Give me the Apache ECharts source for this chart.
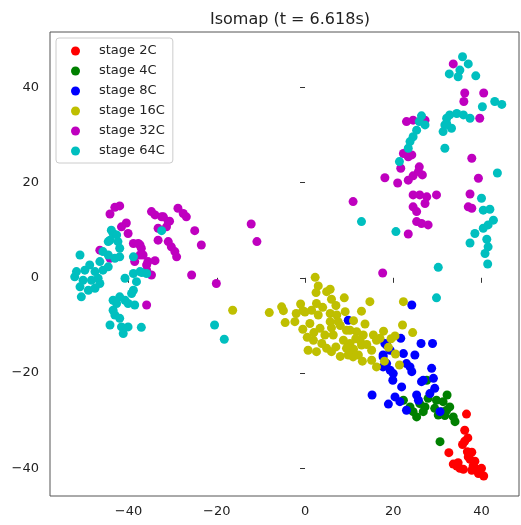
<!DOCTYPE html>
<html>
<head>
<meta charset="utf-8">
<script src="https://cdn.jsdelivr.net/npm/echarts@6/dist/echarts.min.js"></script>
<style>
  html, body { margin: 0; padding: 0; background: #fff; }
  #chart { width: 521px; height: 525px; }
</style>
</head>
<body>
<div id="chart"></div>
<script>
// Isomap embedding of cells, grouped by developmental stage
const seriesNames = ['stage 2C', 'stage 4C', 'stage 8C', 'stage 16C', 'stage 32C', 'stage 64C'];
const seriesColors = ['#ff0000', '#008000', '#0000ff', '#bfbf00', '#bf00bf', '#00bfbf'];
const xTicks = [-40, -20, 0, 20, 40];
const yTicks = [-40, -20, 0, 20, 40];

const stage2C = [
  [36.6,-28.6],[36.2,-32.0],[36.9,-33.6],[35.7,-35.0],[36.8,-36.5],[32.6,-36.7],[37.4,-38.1],
  [38.5,-38.5],[33.6,-39.1],[34.7,-38.8],[35.9,-40.2],[37.8,-40.4],[38.9,-40.2],[40.0,-40.0],
  [40.5,-41.6],[39.3,-41.1],[38.1,-39.5],[37.0,-37.6],[36.2,-34.3],[37.8,-36.6],[39.6,-40.8],
  [35.1,-40.0],[34.4,-39.5]
];
const stage4C = [
  [30.6,-34.4],[32.2,-24.6],[31.3,-26.0],[32.8,-27.1],[33.6,-29.2],[34.0,-30.2],[30.2,-28.8],
  [31.0,-28.1],[25.3,-29.2],[27.2,-27.1],[26.0,-26.4],[23.8,-27.1],[22.3,-25.7],[26.8,-28.1],
  [27.6,-21.5],[24.5,-28.1],[29.8,-25.7],[32.1,-27.8],[29.4,-27.4],[31.7,-28.9],[27.9,-25.3]
];
const stage8C = [
  [24.2,-5.7],[9.8,-8.9],[21.7,-12.7],[26.3,-13.8],[28.9,-13.8],[18.5,-14.1],[17.7,-16.6],
  [22.3,-15.9],[24.9,-16.2],[19.3,-15.2],[18.5,-18.0],[20.0,-20.1],[23.0,-18.0],[24.2,-19.7],
  [28.7,-19.0],[29.1,-21.1],[26.4,-21.8],[19.9,-21.5],[21.9,-22.9],[29.4,-23.2],[15.2,-24.6],
  [20.4,-25.0],[25.3,-24.6],[18.9,-26.5],[21.5,-26.0],[23.0,-27.8],[25.7,-25.7],[28.3,-24.3],
  [30.6,-28.1],[17.7,-18.7],[19.3,-19.4],[23.8,-18.7],[26.8,-21.5],[18.1,-13.8],[17.7,-16.2]
];
const stage16C = [
  [-16.4,-6.8],[2.3,0.1],[3.0,-1.7],[2.5,-3.1],[5.7,-2.4],[4.9,-2.9],[8.9,-4.2],[14.7,-5.0],
  [2.6,-5.4],[-5.3,-6.1],[-4.9,-6.9],[-8.1,-7.3],[-0.5,-6.9],[1.5,-6.8],[5.7,-7.5],[7.2,-7.8],
  [9.1,-7.1],[12.8,-7.0],[3.0,-7.8],[-4.5,-9.4],[-2.3,-9.2],[-0.5,-10.8],[1.1,-9.6],[5.7,-9.2],
  [7.5,-9.2],[13.6,-9.7],[3.4,-10.6],[4.5,-12.0],[6.4,-12.0],[9.4,-11.0],[11.7,-11.3],[13.2,-12.0],
  [15.5,-12.0],[1.9,-13.1],[3.8,-13.8],[8.7,-13.1],[10.2,-13.8],[12.8,-14.1],[16.2,-13.1],
  [0.7,-15.2],[4.9,-14.8],[9.8,-16.2],[12.1,-16.2],[15.1,-15.2],[2.6,-15.5],[22.3,-5.0],
  [22.1,-9.9],[24.4,-11.5],[10.2,-11.0],[17.0,-12.7],[20.4,-12.2],[12.5,-13.1],[9.8,-14.1],
  [18.9,-14.6],[10.9,-16.6],[15.1,-17.3],[16.2,-18.7],[21.4,-18.3],[9.4,-14.8],[-1.0,-5.5],
  [0.0,-7.2],[-2.0,-7.5],[6.0,-4.5],[7.0,-5.8],[4.0,-6.2],[11.0,-9.0],[8.0,-10.0],[6.0,-10.5],
  [2.0,-11.5],[0.5,-12.5],[7.0,-14.5],[6.0,-15.5],[8.0,-16.5],[11.0,-15.0],[13.0,-17.5],
  [14.0,-14.0],[11.5,-12.8],[17.8,-11.2],[19.5,-12.8],[20.5,-16.0],[18.0,-17.5]
];
const stage32C = [
  [-44.2,13.4],[-43.1,14.8],[-42.0,15.1],[-34.8,13.9],[-34.0,13.2],[-32.5,12.8],[-31.0,11.8],
  [-28.8,14.6],[-27.6,13.5],[-26.9,12.8],[-25.0,9.9],[-23.5,6.9],[-40.5,11.5],[-41.6,10.7],
  [-33.3,10.4],[-31.4,10.7],[-33.3,7.9],[-31.0,7.6],[-30.3,6.5],[-29.5,5.5],[-29.1,4.4],
  [-38.9,7.2],[-37.8,7.2],[-37.1,6.2],[-36.7,4.8],[-38.6,3.4],[-35.6,3.4],[-34.0,3.6],
  [-35.9,1.6],[-34.8,0.6],[-46.5,5.8],[-25.7,0.6],[-20.1,-1.2],[-35.9,-5.7],[-44.2,4.1],
  [-40.1,9.3],[-32.1,12.8],[-30.7,11.9],[-37.4,6.9],[-37.4,4.8],[-35.9,2.7],[-12.2,11.3],
  [-10.9,7.6],[10.9,16.0],[17.6,1.0],
  [33.6,44.9],[36.2,38.8],[36.0,37.0],[40.5,38.8],[39.6,33.5],[23.0,32.8],[24.5,33.1],
  [27.2,33.1],[22.3,26.1],[23.4,25.4],[24.2,25.8],[21.7,23.0],[25.9,23.3],[26.6,21.6],
  [18.1,21.0],[21.0,19.9],[23.4,20.5],[24.5,21.4],[25.7,22.3],[37.8,25.1],[39.3,20.9],
  [24.5,17.4],[26.0,17.4],[27.6,17.0],[29.8,17.4],[24.5,14.9],[27.2,15.6],[25.3,13.9],
  [25.3,11.8],[26.4,11.4],[27.9,11.1],[37.4,17.6],[37.0,14.9],[37.8,14.6],[23.4,9.2]
];
const stage64C = [
  [35.7,46.4],[37.0,44.9],[35.1,43.6],[32.7,42.8],[34.7,42.2],[38.7,42.4],[43.0,37.0],
  [44.6,36.4],[40.2,35.9],[26.4,34.0],[25.9,32.8],[27.2,32.1],[32.1,33.5],[34.4,34.5],
  [35.9,34.2],[37.4,33.5],[32.8,34.2],[31.7,32.1],[31.3,30.7],[33.2,31.4],[32.1,32.4],
  [25.3,31.0],[24.5,29.6],[23.8,28.6],[23.4,27.2],[21.4,24.4],[31.7,27.2],[43.6,22.0],
  [40.0,16.7],[40.4,14.2],[41.9,14.4],[42.7,12.1],[41.5,11.1],[40.4,10.4],[38.5,9.3],
  [37.4,7.3],[41.2,8.1],[41.5,6.5],[40.8,5.1],[41.4,2.9],[30.2,2.2],[20.6,9.7],[12.8,11.8],
  [29.8,-4.2],
  [-32.5,9.9],[-43.5,9.3],[-44.2,7.9],[-42.4,7.6],[-42.0,6.2],[-45.8,5.5],[-44.6,4.8],
  [-43.1,4.1],[-42.0,4.4],[-51.0,4.8],[-38.9,4.4],[-46.5,3.4],[-48.8,2.7],[-51.8,1.3],
  [-52.2,0.2],[-49.9,1.6],[-47.6,1.3],[-45.8,1.6],[-44.6,2.3],[-50.3,-0.5],[-48.4,-0.5],
  [-46.9,-0.1],[-51.0,-1.9],[-49.1,-2.6],[-50.7,-4.0],[-47.6,-2.2],[-46.5,-1.2],[-40.8,-0.1],
  [-38.9,0.9],[-37.4,1.3],[-35.9,0.9],[-38.2,-0.8],[-38.9,-2.6],[-39.3,-3.3],[-42.0,-4.0],
  [-40.8,-4.7],[-40.1,-5.4],[-38.6,-5.7],[-42.7,-5.4],[-43.5,-6.8],[-43.1,-7.8],[-42.0,-8.5],
  [-44.2,-9.9],[-41.6,-10.3],[-41.2,-11.7],[-40.1,-10.3],[-37.1,-10.4],[-43.5,-4.7],
  [-44.6,7.6],[-43.9,10.0],[-42.7,9.0],[-20.5,-9.9],[-18.3,-12.9],[-37.0,1.1]
];

const seriesData = [stage2C, stage4C, stage8C, stage16C, stage32C, stage64C];

const font = 'DejaVu Sans';
const minusFmt = v => (v < 0 ? '\u2212' + Math.abs(v) : String(v));

const chart = echarts.init(document.getElementById('chart'), null, { renderer: 'canvas' });

chart.setOption({
  animation: false,
  backgroundColor: '#ffffff',
  title: {
    text: 'Isomap (t = 6.618s)',
    left: 285,
    textAlign: 'center',
    top: 7,
    textStyle: { fontFamily: font, fontSize: 16, fontWeight: 'normal', color: '#222' }
  },
  grid: {
    left: 50, right: 2, top: 32, bottom: 29,
    show: true, borderColor: '#555', borderWidth: 1, backgroundColor: 'transparent'
  },
  legend: {
    orient: 'vertical',
    left: 56, top: 38,
    padding: [6, 8, 5, 15],
    itemGap: 6,
    itemWidth: 9, itemHeight: 9,
    icon: 'circle',
    backgroundColor: 'rgba(255,255,255,0.85)',
    borderColor: '#cccccc', borderWidth: 1, borderRadius: 3,
    textStyle: { fontFamily: font, fontSize: 13, color: '#222', lineHeight: 14, padding: [0, 0, 0, 14] },
    data: seriesNames
  },
  xAxis: {
    type: 'value', min: -57.8, max: 48.5,
    splitLine: { show: false },
    axisLine: { show: false },
    axisTick: { show: true, length: 5, inside: false, customValues: xTicks, lineStyle: { color: '#333' } },
    axisLabel: { customValues: xTicks, formatter: minusFmt, margin: 9, fontFamily: font, fontSize: 13, color: '#222' }
  },
  yAxis: {
    type: 'value', min: -45.8, max: 51.6,
    splitLine: { show: false },
    axisLine: { show: false },
    axisTick: { show: true, length: 5, inside: false, customValues: yTicks, lineStyle: { color: '#333' } },
    axisLabel: { customValues: yTicks, formatter: minusFmt, margin: 11, fontFamily: font, fontSize: 13, color: '#222' }
  },
  series: seriesNames.map((name, i) => ({
    name,
    type: 'scatter',
    data: seriesData[i],
    symbol: 'circle',
    symbolSize: 9,
    itemStyle: { color: seriesColors[i], opacity: 1 },
    emphasis: { disabled: true },
    z: 2 + i
  }))
});
</script>
</body>
</html>
